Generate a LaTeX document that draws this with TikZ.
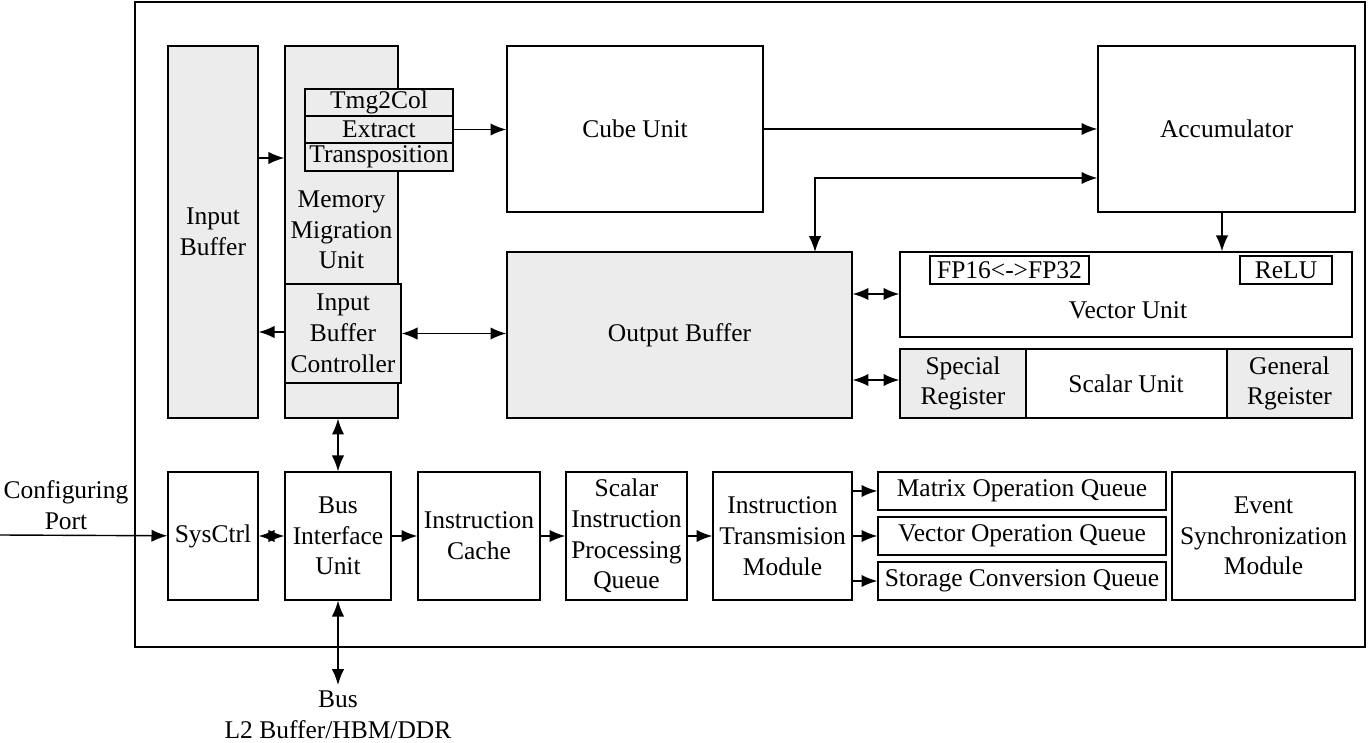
\documentclass[tikz,border=0pt]{standalone}
\usepackage{fontspec}
\setmainfont{Liberation Serif}
\usetikzlibrary{arrows.meta}
\begin{document}
\begin{tikzpicture}[
    x=0.02cm, y=-0.02cm,
    font=\fontsize{14.5}{17.5}\selectfont,
    >={Latex[length=9pt,width=7pt]},
    every node/.style={align=center, inner sep=0pt},
    blk/.style={draw, line width=0.8pt, fill=white},
    gblk/.style={blk, fill=gray!15},
    link/.style={->, line width=0.8pt},
    dlink/.style={<->, line width=0.8pt}
  ]
  \useasboundingbox (0,0) rectangle (1370,743);

  % frame
  \draw[line width=0.8pt] (135,2) rectangle (1365,647);

  % upper half
  \node[gblk] (inbuf) at (213,232) [minimum width=1.8cm, minimum height=7.44cm] {Input\\Buffer};
  \node[gblk] (mmu) at (341.5,232) [minimum width=2.26cm, minimum height=7.44cm] {};
  \node (mmutxt) at (341.5,230) {Memory\\Migration\\Unit};
  \node[gblk] (tmg) at (379,102.5) [minimum width=2.96cm, minimum height=0.54cm] {Tmg2Col};
  \node[gblk] (extr) at (379,129.5) [minimum width=2.96cm, minimum height=0.54cm] {Extract};
  \node[gblk] (trans) at (379,157) [minimum width=2.96cm, minimum height=0.56cm] {Transposition};
  \node[gblk] (ibc) at (343,333.5) [minimum width=2.32cm, minimum height=1.98cm] {Input\\Buffer\\Controller};

  \node[blk] (cube) at (635,129) [minimum width=5.12cm, minimum height=3.32cm] {Cube Unit};
  \node[blk] (acc) at (1226.5,129) [minimum width=5.14cm, minimum height=3.32cm] {Accumulator};
  \node[gblk] (outbuf) at (679.5,335) [minimum width=6.9cm, minimum height=3.32cm] {Output Buffer};

  \node[blk] (vec) at (1126,294.5) [minimum width=9.04cm, minimum height=1.7cm] {};
  \node at (1128,310) {Vector Unit};
  \node[blk] (fp) at (1009.5,270) [minimum width=3.18cm, minimum height=0.56cm] {FP16<->FP32};
  \node[blk] (relu) at (1286,270) [minimum width=1.84cm, minimum height=0.56cm] {ReLU};

  \node[blk] (scal) at (1126,383.5) [minimum width=9.04cm, minimum height=1.38cm] {Scalar Unit};
  \node[gblk] (sreg) at (963,383.5) [minimum width=2.52cm, minimum height=1.38cm] {Special\\Register};
  \node[gblk] (greg) at (1289.5,383.5) [minimum width=2.5cm, minimum height=1.38cm] {General\\Rgeister};

  % lower row
  \node[blk] (sys) at (213,536) [minimum width=1.8cm, minimum height=2.56cm] {SysCtrl};
  \node[blk] (biu) at (338,536) [minimum width=2.12cm, minimum height=2.56cm] {Bus\\Interface\\Unit};
  \node[blk] (icache) at (479,536) [minimum width=2.44cm, minimum height=2.56cm] {Instruction\\Cache};
  \node[blk] (sipq) at (626.5,536) [minimum width=2.42cm, minimum height=2.56cm] {Scalar\\Instruction\\Processing\\Queue};
  \node[blk] (itm) at (782.5,536) [minimum width=2.78cm, minimum height=2.56cm] {Instruction\\Transmision\\Module};
  \node[blk] (mq) at (1022,491) [minimum width=5.76cm, minimum height=0.76cm] {Matrix Operation Queue};
  \node[blk] (vq) at (1022,536) [minimum width=5.76cm, minimum height=0.76cm] {Vector Operation Queue};
  \node[blk] (sq) at (1022,581) [minimum width=5.76cm, minimum height=0.76cm] {Storage Conversion Queue};
  \node[blk] (esm) at (1263.5,536) [minimum width=3.66cm, minimum height=2.56cm] {Event\\Synchronization\\Module};

  % outside labels
  \node (cfg) at (66,505) {Configuring\\Port};
  \coordinate (cfgin) at (0,535);
  \node (bus) at (338,715) {Bus\\L2 Buffer/HBM/DDR};
  \coordinate (busend) at (338,685);

  % connectors
  \draw[link] (inbuf.east |- 0,158) -- (mmu.west |- 0,158);
  \draw[link] (mmu.west |- 0,332) -- (inbuf.east |- 0,332);
  \draw[link] (extr) -- (cube.west |- extr);
  \draw[link] (cube) -- (acc);
  \draw[dlink] (815,252) |- (acc.west |- 0,178);
  \draw[link] (acc.south -| 1222,0) -- (vec.north -| 1222,0);
  \draw[dlink] (outbuf.east |- 0,294) -- (vec.west |- 0,294);
  \draw[dlink] (outbuf.east |- 0,380) -- (scal.west |- 0,380);
  \draw[dlink] (ibc.east) -- (outbuf.west |- ibc.east);
  \draw[dlink] (mmu.south -| biu.north) -- (biu.north);
  \draw[link] (cfgin) -- (sys);
  \draw[dlink] (sys) -- (biu);
  \draw[link] (biu) -- (icache);
  \draw[link] (icache) -- (sipq);
  \draw[link] (sipq) -- (itm);
  \draw[link] (itm.east |- mq) -- (mq);
  \draw[link] (itm) -- (vq);
  \draw[link] (itm.east |- sq) -- (sq);
  \draw[dlink] (biu.south) -- (busend);
\end{tikzpicture}
\end{document}
